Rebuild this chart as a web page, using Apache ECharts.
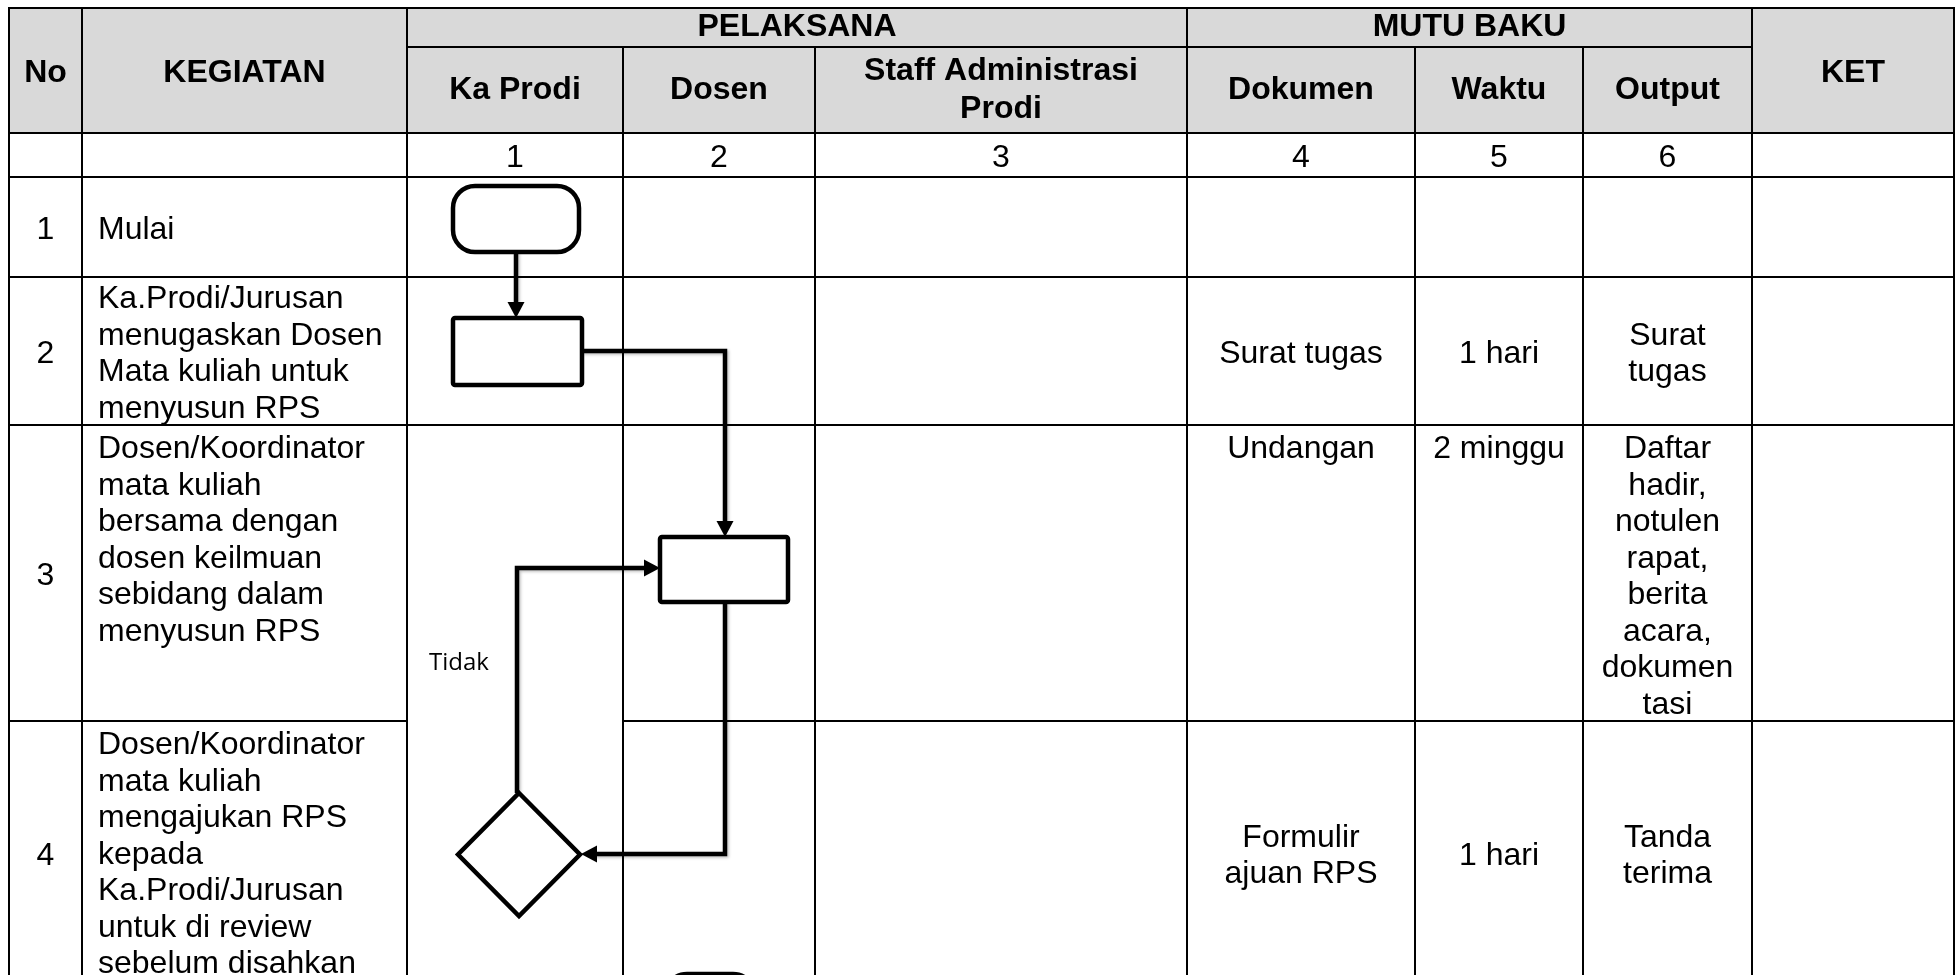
<!DOCTYPE html>
<html>
<head>
<meta charset="utf-8">
<script src="https://cdn.jsdelivr.net/npm/echarts@6/dist/echarts.min.js"></script>
<style>html,body{margin:0;padding:0;background:#fff}#c{width:1959px;height:975px}</style>
</head>
<body>
<div id="c"></div>
<script>
// ---------------- DATA ----------------
const topHeaders = ['No', 'KEGIATAN', 'PELAKSANA', 'MUTU BAKU', 'KET'];
const subHeaders = ['Ka Prodi', 'Dosen', 'Staff Administrasi\nProdi', 'Dokumen', 'Waktu', 'Output'];
const columnNumbers = ['1', '2', '3', '4', '5', '6'];
const stepNo = ['1', '2', '3', '4'];
const kegiatan = [
  'Mulai',
  'Ka.Prodi/Jurusan\nmenugaskan Dosen\nMata kuliah untuk\nmenyusun RPS',
  'Dosen/Koordinator\nmata kuliah\nbersama dengan\ndosen keilmuan\nsebidang dalam\nmenyusun RPS',
  'Dosen/Koordinator\nmata kuliah\nmengajukan RPS\nkepada\nKa.Prodi/Jurusan\nuntuk di review\nsebelum disahkan'
];
const dokumen = ['', 'Surat tugas', 'Undangan', 'Formulir\najuan RPS'];
const waktu = ['', '1 hari', '2 minggu', '1 hari'];
const outputDocs = ['', 'Surat\ntugas', 'Daftar\nhadir,\nnotulen\nrapat,\nberita\nacara,\ndokumen\ntasi', 'Tanda\nterima'];
const ket = ['', '', '', ''];
// flowchart symbols: shape, lane (0 = Ka Prodi, 1 = Dosen), step
const flowShapes = ['terminal', 'process', 'process', 'decision', 'terminal'];
const flowLanes = [0, 0, 1, 0, 1];
const flowSteps = [0, 1, 2, 3, 4];
const flowLinks = [[0, 1], [1, 2], [2, 3], [3, 2]];
const linkLabels = ['', '', '', 'Tidak'];

// ---------------- LAYOUT (pixels in the 1959x975 frame) ----------------
const W = 1959, H = 975;
const COLS = [9, 82, 407, 623, 815, 1187, 1415, 1583, 1752, 1954];
const ROWS = [8, 47, 133, 177, 277, 425, 721, 985];
const HEADER_FILL = '#d9d9d9';
const FONT = '"Liberation Sans", Arial, sans-serif';
const FS = 32, LH = 36.5;
// symbol boxes [x0, y0, x1, y1]
const nodeBoxes = [
  [453, 186, 579, 252],
  [453, 318, 582, 385],
  [660, 537, 788, 602],
  [458, 793, 580, 916],
  [665, 974, 755, 1040]
];
// link routes
const linkRoutes = [
  [[516, 252], [516, 318]],
  [[582, 351], [725, 351], [725, 537]],
  [[725, 602], [725, 854], [581, 854]],
  [[517, 793], [517, 568], [660, 568]]
];
const labelPos = [null, null, null, [459, 663]];

// ---------------- BUILD CELLS ----------------
const cells = [];
function cell(c0, c1, r0, r1, text, opt) {
  cells.push(Object.assign({ c0, c1, r0, r1, text, bold: false, fill: '#fff', align: 'center', valign: 'middle', dy: 3 }, opt || {}));
}
const H_OPT = { bold: true, fill: HEADER_FILL, dy: 0 };
cell(0, 1, 0, 2, topHeaders[0], { bold: true, fill: HEADER_FILL, dy: 3 });
cell(1, 2, 0, 2, topHeaders[1], { bold: true, fill: HEADER_FILL, dy: 3 });
cell(2, 5, 0, 1, topHeaders[2], H_OPT);
cell(5, 8, 0, 1, topHeaders[3], H_OPT);
cell(8, 9, 0, 2, topHeaders[4], { bold: true, fill: HEADER_FILL, dy: 3 });
subHeaders.forEach((t, i) => cell(2 + i, 3 + i, 1, 2, t, H_OPT));
cell(0, 1, 2, 3, '');
cell(1, 2, 2, 3, '');
columnNumbers.forEach((t, i) => cell(2 + i, 3 + i, 2, 3, t));
cell(8, 9, 2, 3, '');
for (let s = 0; s < 4; s++) {
  const r = 3 + s;
  const topAligned = s >= 2;
  cell(0, 1, r, r + 1, stepNo[s]);
  cell(1, 2, r, r + 1, kegiatan[s], { align: 'left', valign: topAligned ? 'top' : 'middle' });
  if (s < 2) cell(2, 3, r, r + 1, '');
  if (s === 2) cell(2, 3, r, r + 2, '');
  cell(3, 4, r, r + 1, '');
  cell(4, 5, r, r + 1, '');
  const va = s === 2 ? 'top' : 'middle';
  cell(5, 6, r, r + 1, dokumen[s], { valign: va });
  cell(6, 7, r, r + 1, waktu[s], { valign: va });
  cell(7, 8, r, r + 1, outputDocs[s], { valign: va });
  cell(8, 9, r, r + 1, ket[s]);
}

// ---------------- RENDER ----------------
function pt(api, p) { return api.coord(p); }

function renderCell(params, api) {
  const c = cells[params.dataIndex];
  const a = pt(api, [COLS[c.c0], ROWS[c.r0]]);
  const b = pt(api, [COLS[c.c1], ROWS[c.r1]]);
  const children = [{
    type: 'rect',
    shape: { x: a[0], y: a[1], width: b[0] - a[0], height: b[1] - a[1] },
    style: { fill: c.fill, stroke: '#000', lineWidth: 2 }
  }];
  if (c.text) {
    const tx = c.align === 'left' ? a[0] + 16 : (a[0] + b[0]) / 2;
    const ty = (c.valign === 'top' ? a[1] + 3 : (a[1] + b[1]) / 2) + c.dy;
    children.push({
      type: 'text',
      style: {
        text: c.text, x: tx, y: ty, fill: '#000',
        fontFamily: FONT, fontSize: FS, fontWeight: c.bold ? 'bold' : 'normal',
        align: c.align, verticalAlign: c.valign, lineHeight: c.bold ? 38 : LH
      }
    });
  }
  return { type: 'group', children };
}

function arrowHead(p1, p2) {
  const dx = p2[0] - p1[0], dy = p2[1] - p1[1];
  const len = Math.sqrt(dx * dx + dy * dy);
  const ux = dx / len, uy = dy / len;
  const L = 16, Wd = 8.5;
  const bx = p2[0] - ux * L, by = p2[1] - uy * L;
  return [[p2[0], p2[1]], [bx - uy * Wd, by + ux * Wd], [bx + uy * Wd, by - ux * Wd]];
}

function renderLink(params, api) {
  const i = params.dataIndex;
  const route = linkRoutes[i].map(p => pt(api, p));
  const n = route.length;
  const last = route[n - 1], prev = route[n - 2];
  const shaft = route.slice();
  const dx = last[0] - prev[0], dy = last[1] - prev[1];
  const len = Math.sqrt(dx * dx + dy * dy);
  shaft[n - 1] = [last[0] - dx / len * 10, last[1] - dy / len * 10];
  const children = [
    { type: 'polyline', shape: { points: shaft },
      style: { stroke: '#000', lineWidth: 4.5, fill: null, lineJoin: 'miter',
               shadowColor: 'rgba(0,0,0,0.25)', shadowBlur: 3, shadowOffsetX: 1.5, shadowOffsetY: 1.5 } },
    { type: 'polygon', shape: { points: arrowHead(prev, last) }, style: { fill: '#000' } }
  ];
  if (linkLabels[i]) {
    const lp = pt(api, labelPos[i]);
    children.push({ type: 'text', style: { text: linkLabels[i], x: lp[0], y: lp[1], fill: '#000',
      fontFamily: '"Open Sans", "Noto Sans", sans-serif', fontSize: 24, align: 'center', verticalAlign: 'middle' } });
  }
  return { type: 'group', children };
}

function renderNode(params, api) {
  const i = params.dataIndex;
  const bx = nodeBoxes[i];
  const a = pt(api, [bx[0], bx[1]]), b = pt(api, [bx[2], bx[3]]);
  const st = { fill: '#fff', stroke: '#000', lineWidth: 4.5 };
  const shape = flowShapes[i];
  if (shape === 'decision') {
    const cx = (a[0] + b[0]) / 2, cy = (a[1] + b[1]) / 2;
    return { type: 'polygon', shape: { points: [[cx, a[1]], [b[0], cy], [cx, b[1]], [a[0], cy]] }, style: st };
  }
  return { type: 'rect',
    shape: { x: a[0], y: a[1], width: b[0] - a[0], height: b[1] - a[1], r: shape === 'terminal' ? 22 : 2 },
    style: st };
}

const chart = echarts.init(document.getElementById('c'), null, { renderer: 'canvas' });
chart.setOption({
  animation: false,
  backgroundColor: '#fff',
  grid: { left: 0, right: 0, top: 0, bottom: 0 },
  xAxis: { type: 'value', min: 0, max: W, show: false },
  yAxis: { type: 'value', min: 0, max: H, inverse: true, show: false },
  series: [
    { type: 'custom', name: 'table', coordinateSystem: 'cartesian2d', clip: false,
      data: cells.map((c, i) => [i, i]), renderItem: renderCell, silent: true },
    { type: 'custom', name: 'links', coordinateSystem: 'cartesian2d', clip: false,
      data: flowLinks.map((l, i) => [i, i]), renderItem: renderLink, silent: true, z: 3 },
    { type: 'custom', name: 'nodes', coordinateSystem: 'cartesian2d', clip: false,
      data: flowShapes.map((s, i) => [flowLanes[i], flowSteps[i]]), renderItem: renderNode, silent: true, z: 4 }
  ]
});
</script>
</body>
</html>
